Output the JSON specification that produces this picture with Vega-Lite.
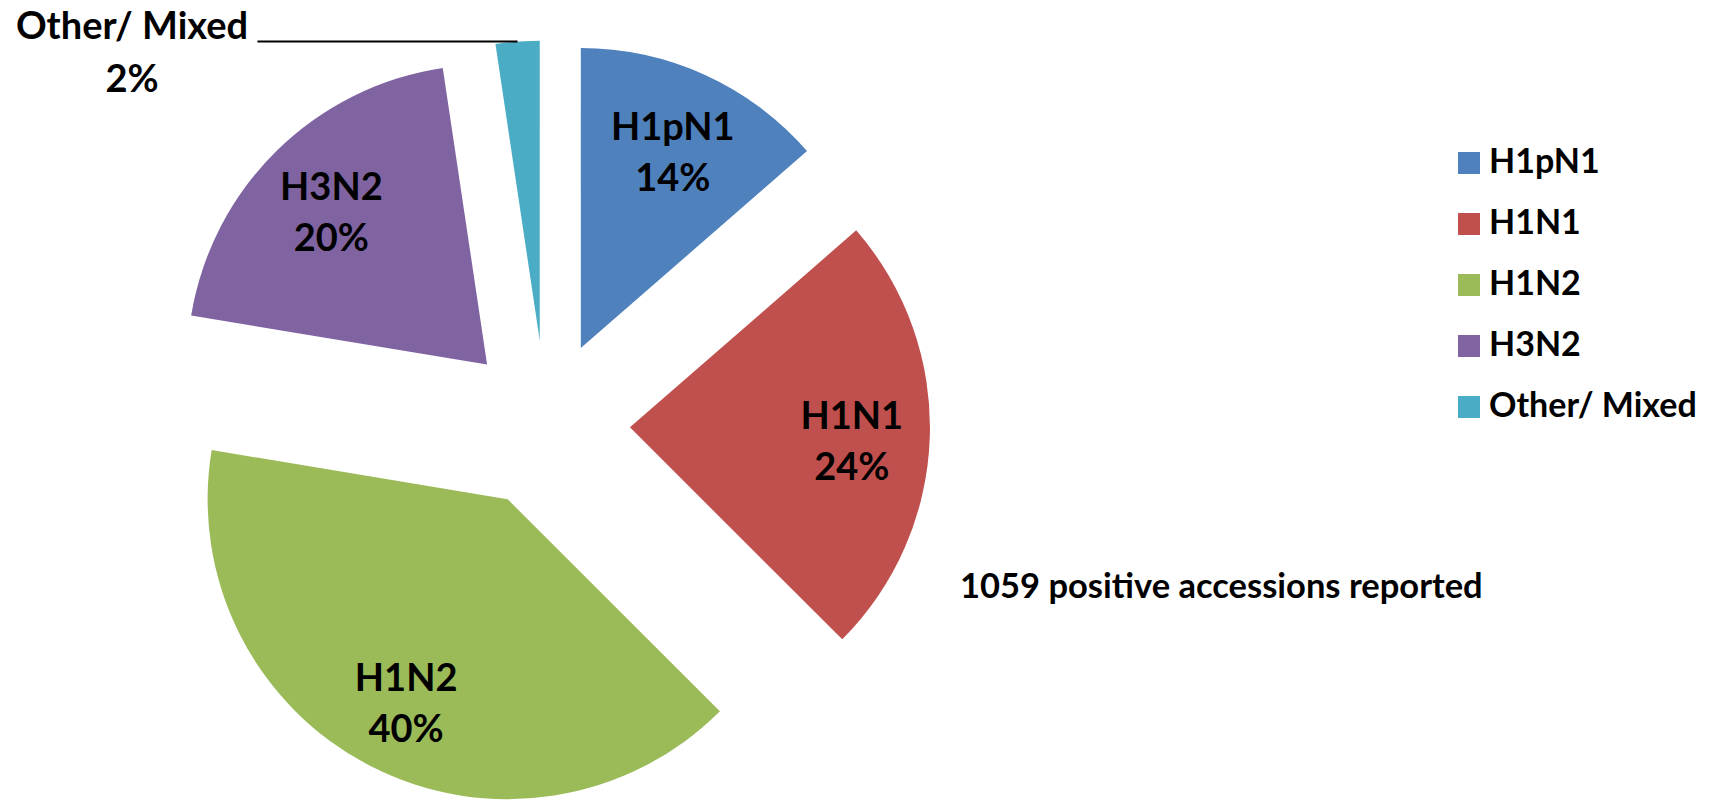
{
  "$schema": "https://vega.github.io/schema/vega-lite/v6.json",
  "width": 1712,
  "height": 801,
  "autosize": {"type": "none"},
  "padding": 0,
  "background": "white",
  "config": {
    "view": {"stroke": null},
    "text": {"font": "Lato", "fontWeight": "bold", "color": "black"}
  },
  "data": {
    "values": [
      {"type": "H1pN1", "count": 144, "order": 1},
      {"type": "H1N1", "count": 253, "order": 2},
      {"type": "H1N2", "count": 425, "order": 3},
      {"type": "H3N2", "count": 212, "order": 4},
      {"type": "Other/ Mixed", "count": 25, "order": 5}
    ]
  },
  "transform": [
    {"joinaggregate": [{"op": "sum", "field": "count", "as": "total"}]},
    {"window": [{"op": "sum", "field": "count", "as": "cum"}], "sort": [{"field": "order"}], "frame": [null, 0]},
    {"calculate": "(datum.cum - datum.count) / datum.total", "as": "f0"},
    {"calculate": "datum.cum / datum.total", "as": "f1"},
    {"calculate": "PI * (datum.f0 + datum.f1)", "as": "mid"},
    {"calculate": "0.28 * sin(datum.mid)", "as": "cx"},
    {"calculate": "0.28 * cos(datum.mid)", "as": "cy"},
    {"calculate": "format(datum.count / datum.total, '.0%')", "as": "pct"},
    {"calculate": "datum.type + '\\n' + datum.pct", "as": "label"},
    {"calculate": "datum.cx + 0.74 * sin(datum.mid)", "as": "lx"},
    {"calculate": "datum.cy + 0.74 * cos(datum.mid)", "as": "ly"},
    {"calculate": "datum.cx + sin(datum.mid)", "as": "ox"},
    {"calculate": "datum.cy + cos(datum.mid)", "as": "oy"}
  ],
  "layer": [
    {
      "mark": {"type": "arc", "radius": 300, "strokeWidth": 0},
      "encoding": {
        "x": {"field": "cx", "type": "quantitative", "scale": {"domain": [-1.82, 3.886667], "range": [0, 1712], "nice": false, "zero": false}, "axis": null},
        "y": {"field": "cy", "type": "quantitative", "scale": {"domain": [-1.255, 1.415], "range": [801, 0], "nice": false, "zero": false}, "axis": null},
        "theta": {"field": "f0", "type": "quantitative", "stack": null, "scale": {"domain": [0, 1], "range": [0, 6.283185307179586], "nice": false, "zero": false}},
        "theta2": {"field": "f1"},
        "color": {
          "field": "type",
          "type": "nominal",
          "sort": null,
          "scale": {
            "domain": ["H1pN1", "H1N1", "H1N2", "H3N2", "Other/ Mixed"],
            "range": ["#4F81BD", "#C0504D", "#9BBB59", "#8064A2", "#4BACC6"]
          },
          "legend": {
            "orient": "none",
            "legendX": 1452,
            "legendY": 146,
            "title": null,
            "symbolType": "square",
            "symbolSize": 484,
            "symbolStrokeWidth": 0,
            "labelFont": "Lato",
            "labelFontSize": 34,
            "labelFontWeight": "bold",
            "labelColor": "black",
            "labelOffset": 3,
            "labelLimit": 400,
            "rowPadding": 27,
            "padding": 0
          }
        }
      }
    },
    {
      "transform": [{"filter": "datum.type != 'Other/ Mixed'"}],
      "mark": {"type": "text", "fontSize": 38, "lineBreak": "\n", "lineHeight": 51, "align": "center", "baseline": "middle", "dy": -17},
      "encoding": {
        "x": {"field": "lx", "type": "quantitative"},
        "y": {"field": "ly", "type": "quantitative"},
        "text": {"field": "label"}
      }
    },
    {
      "transform": [
        {"filter": "datum.type == 'Other/ Mixed'"},
        {"calculate": "datum.ox - 0.867", "as": "lineEnd"}
      ],
      "mark": {"type": "rule", "color": "black", "strokeWidth": 2},
      "encoding": {
        "x": {"field": "ox", "type": "quantitative"},
        "x2": {"field": "lineEnd"},
        "y": {"field": "oy", "type": "quantitative"}
      }
    },
    {
      "transform": [
        {"filter": "datum.type == 'Other/ Mixed'"},
        {"calculate": "datum.ox - 1.285", "as": "tx"},
        {"calculate": "datum.oy - 0.012", "as": "ty"}
      ],
      "mark": {"type": "text", "fontSize": 38, "lineBreak": "\n", "lineHeight": 53, "align": "center", "baseline": "middle", "dy": -17},
      "encoding": {
        "x": {"field": "tx", "type": "quantitative"},
        "y": {"field": "ty", "type": "quantitative"},
        "text": {"field": "label"}
      }
    },
    {
      "transform": [
        {"filter": "datum.order == 1"},
        {"calculate": "datum.total + ' positive accessions reported'", "as": "note"}
      ],
      "mark": {"type": "text", "fontSize": 34.5, "align": "left", "baseline": "middle"},
      "encoding": {
        "x": {"datum": 1.38, "type": "quantitative"},
        "y": {"datum": -0.546, "type": "quantitative"},
        "text": {"field": "note"}
      }
    }
  ]
}
